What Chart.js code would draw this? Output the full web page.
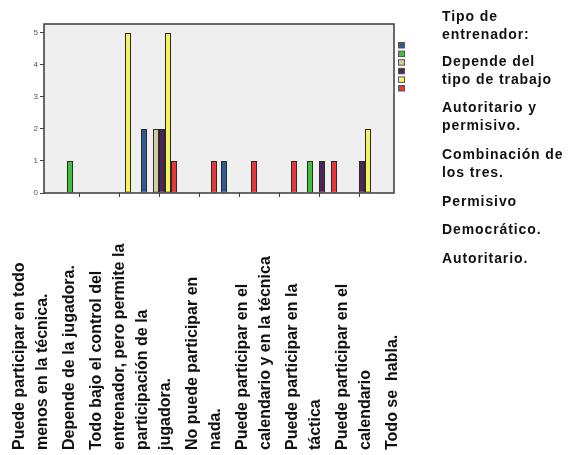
<!DOCTYPE html>
<html>
<head>
<meta charset="utf-8">
<script src="https://cdn.jsdelivr.net/npm/chart.js@4/dist/chart.umd.min.js"></script>
<style>
  html, body { margin: 0; padding: 0; background: #ffffff; }
  #wrap { width: 568px; height: 455px; position: relative; }
</style>
</head>
<body>
<div id="wrap"><canvas id="c"></canvas></div>
<script>
// Category labels (each entry split into its printed lines)
const categories = [
  ['Puede participar en todo', 'menos en la técnica.'],
  ['Depende de la jugadora.'],
  ['Todo bajo el control del', 'entrenador, pero permite la', 'participación de la', 'jugadora.'],
  ['No puede participar en', 'nada.'],
  ['Puede participar en el', 'calendario y en la técnica'],
  ['Puede participar en la', 'táctica'],
  ['Puede participar en el', 'calendario'],
  ['Todo se  habla.']
];

// Legend heading and series names
const legendTitle = ['Tipo de', 'entrenador:'];
const seriesNames = [
  ['Depende del', 'tipo de trabajo'],
  ['Autoritario y', 'permisivo.'],
  ['Combinación de', 'los tres.'],
  ['Permisivo'],
  ['Democrático.'],
  ['Autoritario.']
];

// Counts per category for each coach type
const dependeDelTipo   = [0, 0, 2, 0, 1, 0, 0, 0];
const autoritarioPerm  = [1, 0, 0, 0, 0, 0, 1, 0];
const combinacion      = [0, 0, 2, 0, 0, 0, 0, 0];
const permisivo        = [0, 0, 2, 0, 0, 0, 1, 1];
const democratico      = [0, 5, 5, 0, 0, 0, 0, 2];
const autoritario      = [0, 0, 1, 1, 1, 1, 1, 0];

const yTicks = [0, 1, 2, 3, 4, 5];

const seriesValues = [dependeDelTipo, autoritarioPerm, combinacion, permisivo, democratico, autoritario];
const seriesColors = ['#2f5b90', '#3cc23c', '#d3cb9f', '#4d2556', '#f4f35c', '#e8393a'];

const datasets = seriesValues.map((vals, s) => ({
  label: seriesNames[s].join(' '),
  data: vals.map((v, i) => ({ x: i, y: v === 0 ? null : v })),
  backgroundColor: seriesColors[s],
  borderColor: '#2a2a2a',
  borderWidth: 1,
  borderSkipped: false,
  categoryPercentage: 0.9,
  barPercentage: 1.0
}));

const decorations = {
  id: 'decorations',
  beforeDraw(chart) {
    const { ctx, chartArea: a } = chart;
    ctx.save();
    ctx.fillStyle = '#efefef';
    ctx.fillRect(a.left, a.top, a.right - a.left, a.bottom - a.top);
    ctx.restore();
  },
  afterDraw(chart) {
    const { ctx, chartArea: a } = chart;
    ctx.save();
    // plot frame
    ctx.strokeStyle = '#3a3a3a';
    ctx.lineWidth = 1.5;
    ctx.strokeRect(a.left, a.top, a.right - a.left, a.bottom - a.top);

    // colour swatches next to the plot
    chart.data.datasets.forEach((ds, i) => {
      const x = a.right + 4.5, y = 42.5 + i * 8.6;
      ctx.fillStyle = ds.backgroundColor;
      ctx.fillRect(x, y, 6, 5.5);
      ctx.strokeStyle = '#555';
      ctx.lineWidth = 1;
      ctx.strokeRect(x, y, 6, 5.5);
    });

    // legend text column
    ctx.fillStyle = '#111';
    ctx.font = 'bold 14px "Liberation Sans", Arial, sans-serif';
    ctx.letterSpacing = '0.9px';
    ctx.textAlign = 'left';
    ctx.textBaseline = 'middle';
    const groups = [legendTitle].concat(seriesNames);
    const groupY = [17, 62, 108, 155, 202, 230, 259];
    groups.forEach((lines, g) => {
      lines.forEach((t, k) => ctx.fillText(t, 442, groupY[g] + k * 18));
    });

    // rotated category labels beneath the plot
    ctx.letterSpacing = '0px';
    ctx.font = 'bold 16px "Liberation Sans", Arial, sans-serif';
    ctx.textAlign = 'left';
    ctx.textBaseline = 'middle';
    let x = 20;
    categories.forEach((lines, c) => {
      lines.forEach((t, k) => {
        ctx.save();
        ctx.translate(x, 450);
        ctx.rotate(-Math.PI / 2);
        ctx.fillText(t, 0, 0);
        ctx.restore();
        if (k < lines.length - 1) x += 23;
      });
      x += 27;
    });
    ctx.restore();
  }
};

new Chart(document.getElementById('c'), {
  type: 'bar',
  data: { datasets },
  options: {
    responsive: true,
    maintainAspectRatio: false,
    animation: false,
    layout: { padding: { top: 24, right: 174, bottom: 254, left: 0 } },
    plugins: { legend: { display: false }, tooltip: { enabled: false } },
    scales: {
      x: {
        type: 'linear',
        offset: false,
        min: -0.875,
        max: categories.length - 0.125,
        afterBuildTicks: s => { s.ticks = categories.map((_, i) => ({ value: i })); },
        afterFit: s => { s.height = 8; },
        ticks: { display: false },
        grid: { drawOnChartArea: false, offset: false, tickLength: 4, color: '#444', lineWidth: 1 },
        border: { display: false }
      },
      y: {
        min: 0,
        max: 5.28,
        afterBuildTicks: s => { s.ticks = yTicks.map(v => ({ value: v })); },
        afterFit: s => { s.width = 44; },
        ticks: {
          padding: 2,
          color: '#555',
          font: { family: '"Liberation Sans", Arial, sans-serif', size: 8 }
        },
        grid: { drawOnChartArea: false, tickLength: 4, color: '#444', lineWidth: 1 },
        border: { display: false }
      }
    }
  },
  plugins: [decorations]
});
</script>
</body>
</html>
